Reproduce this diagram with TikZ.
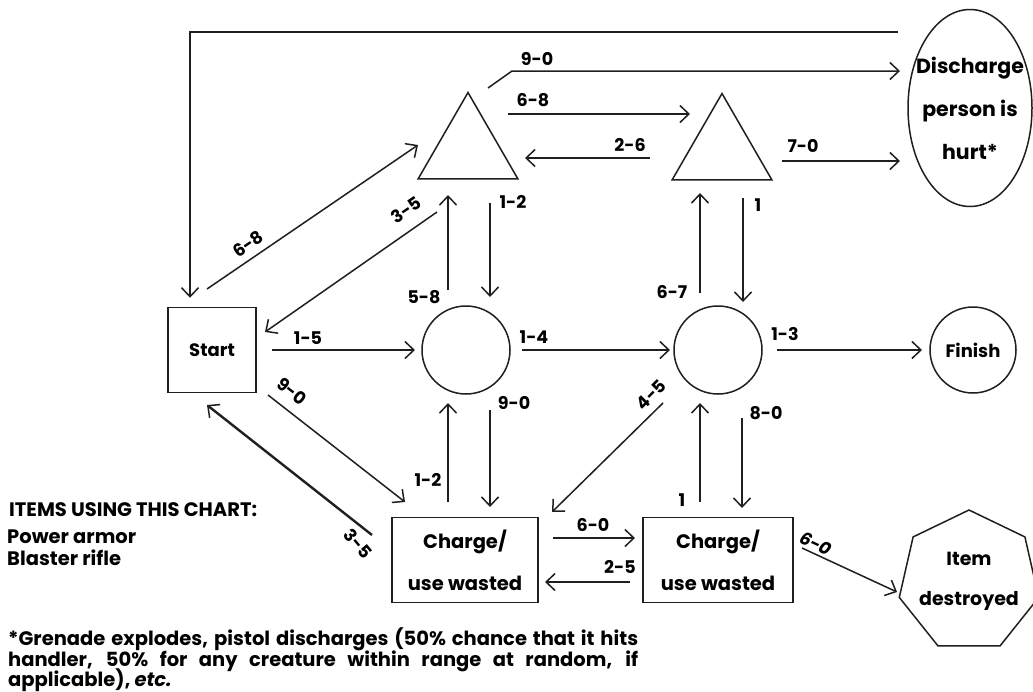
\documentclass[tikz,border=0pt]{standalone}
\usepackage{fontspec}
\setmainfont{Poppins}
\usetikzlibrary{arrows.meta,shapes.geometric,calc}
\begin{document}
\begin{tikzpicture}[x=1pt,y=-1pt,
  txt/.style={font=\bfseries\fontsize{18}{21}\selectfont, inner sep=0pt},
  ln/.style={line width=1.5pt, draw=black!88},
  arr/.style={ln,-{Straight Barb[length=9pt,width=17pt,line width=1.5pt]}},
  tarr/.style={arr, line width=2.4pt},
  box/.style={ln, rectangle, inner sep=0pt, align=center, font=\bfseries\fontsize{19.5}{42}\selectfont},
  poly/.style={ln, regular polygon, inner sep=0pt},
  circ/.style={ln, circle, inner sep=0pt, font=\bfseries\fontsize{18}{21}\selectfont},
  lbl/.style={font=\bfseries\fontsize{17.5}{20}\selectfont, inner sep=0pt},
  side/.style={font=\bfseries\fontsize{19.5}{22}\selectfont, inner sep=0pt}
]
\fill[white] (0,0) rectangle (1033,691);
\useasboundingbox (0,0) rectangle (1033,691);

% nodes
\node[box, font=\bfseries\fontsize{18}{21}\selectfont, minimum width=88pt, minimum height=85pt] (start) at (212,350) {Start};
\node[poly, regular polygon sides=3, minimum size=115pt] (t1) at (468,150) {};
\node[poly, regular polygon sides=3, minimum size=115pt] (t2) at (722,151) {};
\node[circ, minimum size=88pt] (c1) at (466,350) {};
\node[circ, minimum size=88pt] (c2) at (718,350) {};
\node[circ, minimum size=86pt] (fin) at (973,350) {Finish};
\node[ln, ellipse, minimum width=124pt, minimum height=197pt, inner sep=0pt,
  label={[inner sep=0pt, align=center, font=\bfseries\fontsize{20.5}{43}\selectfont]center:Discharge\\person is\\hurt*}] (dis) at (970,108) {};
\node[box, minimum width=146pt, minimum height=85pt] (box1) at (465,560) {Charge/\\use wasted};
\node[box, minimum width=150pt, minimum height=85pt] (box2) at (718,560) {Charge/\\use wasted};
\node[poly, regular polygon sides=7, minimum size=143pt,
  label={[inner sep=0pt, align=center, font=\bfseries\fontsize{19}{40}\selectfont]center:Item\\destroyed}] (hept) at (969,581.5) {};

% connectors
\coordinate (topend) at (898,32);
\draw[arr] (topend) -| ($(start.north)+(-22,-9)$);
\draw[arr] ($(t1)+(20,-62)$) -- ($(t1)+(44,-79)$) -- ($(dis)+(-70,-37)$);
\draw[arr] ($(t1)+(40,-36)$) -- ($(t2)+(-32,-37)$);
\draw[arr] ($(t2)+(-72,7)$) -- ($(t1)+(57,8)$);
\draw[arr] ($(t2)+(60,10)$) -- ($(dis)+(-70,53)$);
\draw[arr] ($(start)+(-5,-61)$) -- ($(t1)+(-50,-5)$);
\draw[arr] ($(t1)+(-31,62)$) -- ($(start)+(53,-18)$);
\draw[arr] ($(c1)+(-18,-60)$) -- ($(t1)+(-20,45)$);
\draw[arr] ($(t1)+(22,53)$) -- ($(c1)+(24,-53)$);
\draw[arr] ($(start)+(60,0)$) -- ($(c1)+(-51,0)$);
\draw[arr] ($(c1)+(56,0)$) -- ($(c2)+(-48,0)$);
\draw[arr] ($(c2)+(-18,-57)$) -- ($(t2)+(-22,42)$);
\draw[arr] ($(t2)+(21,47)$) -- ($(c2)+(25,-48)$);
\draw[arr] ($(c2)+(59,0)$) -- ($(fin)+(-51,0)$);
\draw[arr] ($(c1)+(24,60)$) -- ($(box1)+(25,-53)$);
\draw[arr] ($(box1)+(-17,-58)$) -- ($(c1)+(-18,53)$);
\draw[arr] ($(start)+(56,45)$) -- ($(box1)+(-60,-58)$);
\draw[tarr] ($(box1)+(-93,-25)$) -- ($(start)+(-5,55)$);
\draw[arr] ($(c2)+(-55,53)$) -- ($(box1)+(87,-48)$);
\draw[arr] ($(box2)+(-18,-58)$) -- ($(c2)+(-18,53)$);
\draw[arr] ($(c2)+(24,68)$) -- ($(box2)+(24,-52)$);
\draw[tarr] ($(box1)+(88,-22)$) -- ($(box2)+(-83,-22)$);
\draw[tarr] ($(box2)+(-88,22)$) -- ($(box1)+(80,22)$);
\draw[arr] ($(box2)+(84,-12)$) -- ($(hept)+(-72,10.5)$);

% labels
\node[lbl] (l1) at (537,59) {9-0};
\node[lbl] (l2) at (533,100) {6-8};
\node[lbl] (l3) at (630,145) {2-6};
\node[lbl] (l4) at (803,146) {7-0};
\node[lbl, rotate=34] (l5) at (248,244) {6-8};
\node[lbl, rotate=34] (l6) at (406,210) {3-5};
\node[lbl] (l7) at (424,297) {5-8};
\node[lbl] (l8) at (513,202) {1-2};
\node[lbl] (l9) at (308,338) {1-5};
\node[lbl] (l10) at (534,337) {1-4};
\node[lbl] (l11) at (672,292) {6-7};
\node[lbl] (l12) at (758,205) {1};
\node[lbl] (l13) at (785,334) {1-3};
\node[lbl] (l14) at (514,403) {9-0};
\node[lbl] (l15) at (428,480) {1-2};
\node[lbl, rotate=-38] (l16) at (292,391) {9-0};
\node[lbl, rotate=-50] (l17) at (358,544) {3-5};
\node[lbl, rotate=45] (l18) at (651,395) {4-5};
\node[lbl] (l19) at (682,500) {1};
\node[lbl] (l20) at (766,413) {8-0};
\node[lbl] (l21) at (593,525) {6-0};
\node[lbl] (l22) at (620,567) {2-5};
\node[lbl, rotate=-25, font=\bfseries\itshape\fontsize{17.5}{20}\selectfont] (l23) at (816,544) {6-0};

% side text
\node[side, anchor=base west] (items) at (9,516) {ITEMS USING THIS CHART:};
\node[side, anchor=base west] (pa) at (7,543) {Power armor};
\node[side, anchor=base west] (br) at (7,565) {Blaster rifle};
\node[side, anchor=base west] (f1) at (8,645) {\makebox[630pt][s]{*Grenade explodes, pistol discharges (50\% chance that it hits}};
\node[side, anchor=base west] (f2) at (8,666) {\makebox[630pt][s]{handler, 50\% for any creature within range at random, if}};
\node[side, anchor=base west] (f3) at (8,686) {applicable), \textit{etc.}};
\end{tikzpicture}
\end{document}
